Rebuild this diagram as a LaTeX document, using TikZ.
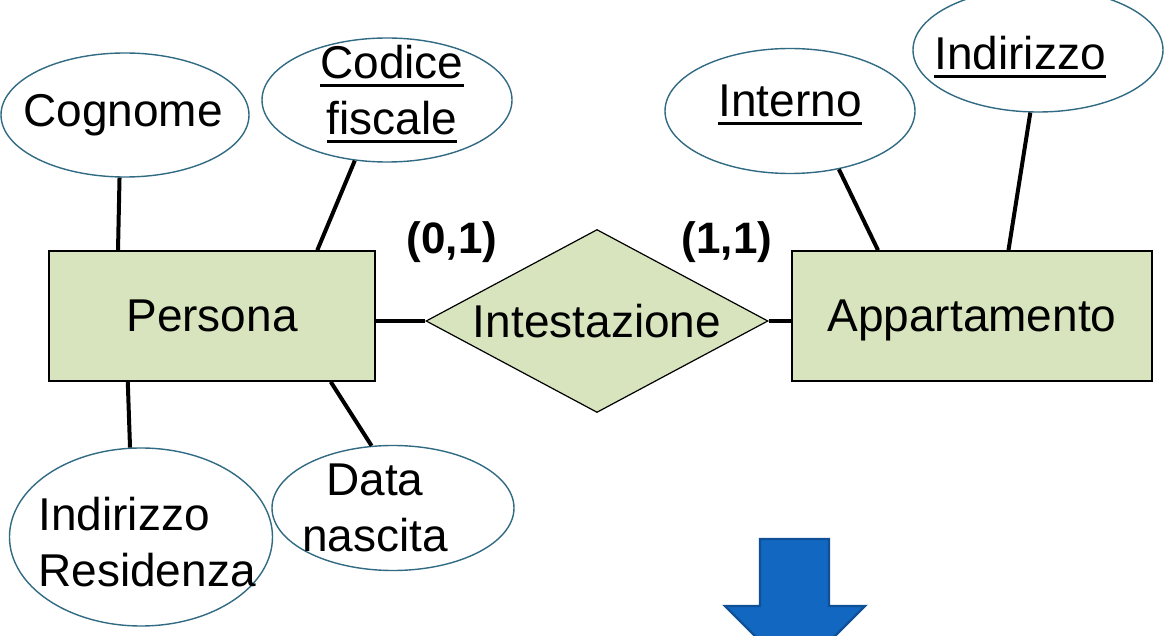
\documentclass[tikz,border=0pt]{standalone}
\usepackage{fontspec}
\setmainfont{Liberation Sans}
\usetikzlibrary{shapes.geometric,positioning}
\definecolor{erfill}{RGB}{215,228,189}
\definecolor{attrline}{RGB}{49,107,131}
\definecolor{arrowblue}{RGB}{18,104,193}
\definecolor{arrowedge}{RGB}{16,80,150}
\newcommand{\keyattr}[1]{\setbox0\hbox{#1}\rlap{\rule[-4pt]{\wd0}{1.5pt}}\box0}

\begin{document}
\begin{tikzpicture}[x=0.5pt, y=-0.5pt,
    every node/.style={font=\fontsize{23}{28}\selectfont},
    entity/.style={rectangle, draw=black, line width=0.8pt, fill=erfill, minimum width=163pt, minimum height=65pt, inner sep=0pt, text depth=0pt},
    rel/.style={diamond, shape aspect=1.87, draw=black, line width=0.6pt, fill=erfill, minimum width=171pt, minimum height=91.5pt, inner sep=0pt},
    attr/.style={ellipse, draw=attrline, line width=0.7pt, fill=white, inner sep=0pt},
    card/.style={font=\fontsize{22}{26}\selectfont\bfseries},
    link/.style={line width=2pt}]
    \clip (0,0) rectangle (1164,636);
    \node[entity] (persona) at (212,316) {Persona};
    \node[rel] (intest) at (597,321) {Intestazione};
    \node[entity, minimum width=180pt] (apt) at (972,316) {Appartamento};
    \node[card] (card_p) at (452,242) {(0,1)};
    \node[card] (card_a) at (727,242) {(1,1)};
    \node[attr, minimum width=124pt, minimum height=62pt, label={[xshift=-1pt]center:Cognome}] (cognome) at (125,115) {};
    \node[attr, minimum width=125pt, minimum height=62pt, label={[align=center, xshift=2.5pt, yshift=3pt]center:\keyattr{Codice}\\\keyattr{fiscale}}] (codice) at (387,100) {};
    \node[attr, minimum width=131.5pt, minimum height=89pt, label={[align=left, xshift=3pt, yshift=-2.5pt]center:Indirizzo\\Residenza}] (residenza) at (141,537) {};
    \node[attr, minimum width=121pt, minimum height=62.5pt, label={[align=center, xshift=-9pt]center:Data\\nascita}] (data) at (393,508) {};
    \node[attr, minimum width=125pt, minimum height=62.5pt, label={[yshift=3pt]center:\keyattr{Interno}}] (interno) at (790,111) {};
    \node[attr, minimum width=125pt, minimum height=62pt, label={[xshift=-9pt, yshift=-3.5pt]center:\keyattr{Indirizzo}}] (indirizzo) at (1038,50) {};
    \path[link]
    (cognome.-95) edge (persona.145)
    (codice.-118) edge (persona.32)
    (residenza.97) edge (persona.218)
    (data.109) edge (persona.-29)
    (interno.-50) edge (apt.145)
    (indirizzo.-97) edge (apt.61)
    (intest.west) edge (intest.west -| persona.east)
    (intest.east) edge (intest.east -| apt.west);
    % freccia in basso
    \filldraw[fill=arrowblue, draw=arrowedge, line width=1.2pt] (760,539) -- (829,539) -- (829,606) -- (865,606) -- (795,676) -- (725,606) -- (760,606) -- cycle;
\end{tikzpicture}
\end{document}
